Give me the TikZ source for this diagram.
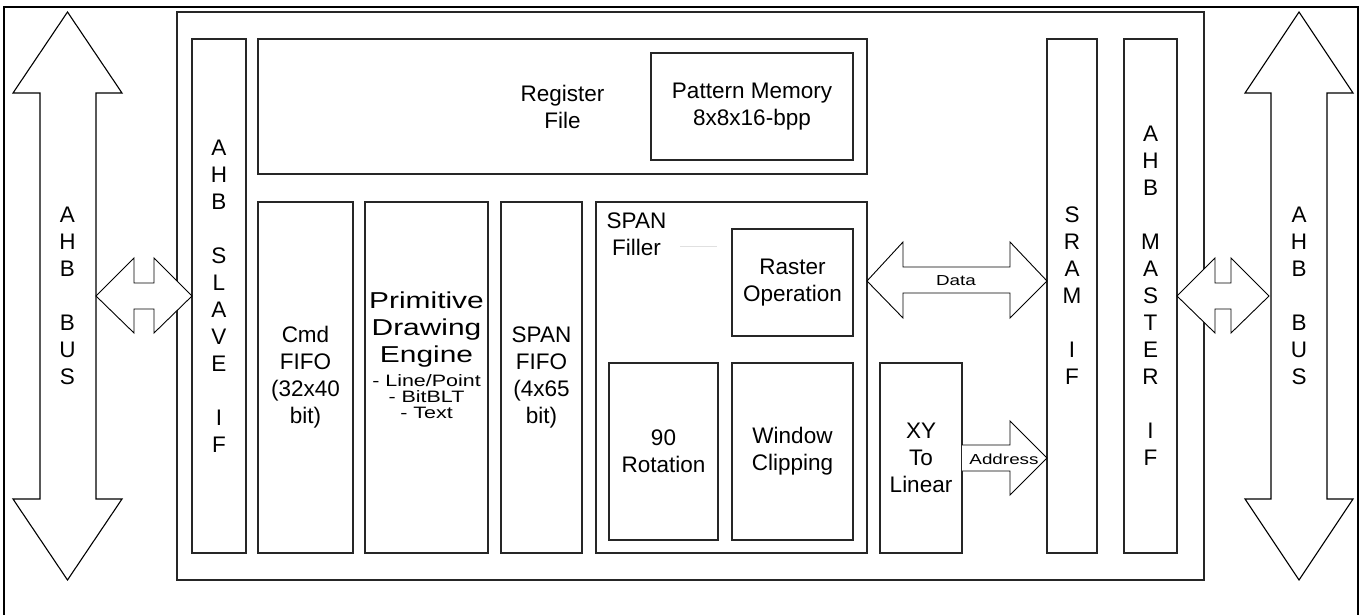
\documentclass[tikz,border=0pt]{standalone}
\usepackage{fontspec}
\setmainfont{Liberation Sans}
\newfontfamily\widefont{Liberation Sans}[FakeStretch=1.3]
\begin{document}
\begin{tikzpicture}[x=1pt,y=-1pt,
  box/.style={draw=black!85,line width=1.2pt,fill=white,inner sep=0pt,align=center,
    font=\fontsize{22.5}{27}\selectfont},
  lbl/.style={inner sep=0pt,align=center,font=\fontsize{22.5}{27}\selectfont},
  widelbl/.style={inner sep=0pt,align=center,font=\widefont\fontsize{23}{27}\selectfont},
  small/.style={inner sep=0pt,align=center,font=\widefont\fontsize{16.5}{16}\selectfont},
  arrlbl/.style={inner sep=0pt,align=center,font=\widefont\fontsize{14.5}{16}\selectfont},
  bigarrow/.style={draw=black,line width=1.1pt,fill=white,line join=miter}]
\useasboundingbox (0,0) rectangle (1364,615);
% outer frame (open at bottom)
\draw[line width=2.5pt] (4,615) -- (4,7) -- (1358,7) -- (1358,615);
% AHB bus arrows
\draw[bigarrow] (67.5,12) -- (122,93) -- (96,93) -- (96,499) -- (122,499) -- (67.5,580)
  -- (13,499) -- (40,499) -- (40,93) -- (13,93) -- cycle;
\node[lbl] (busl) at (67.5,296) {A\\H\\B\\[27pt]B\\U\\S};
\draw[bigarrow] (1299,12) -- (1353,93) -- (1327,93) -- (1327,499) -- (1353,499) -- (1299,580)
  -- (1245,499) -- (1271,499) -- (1271,93) -- (1245,93) -- cycle;
\node[lbl] (busr) at (1299,296) {A\\H\\B\\[27pt]B\\U\\S};
% main block
\node[box,line width=1.3pt,minimum width=1027pt,minimum height=568pt] (main) at (690.5,296) {};
\node[box,minimum width=54pt,minimum height=514pt] (slave) at (219,296)
  {A\\H\\B\\[27pt]S\\L\\A\\V\\E\\[27pt]I\\F};
\node[box,minimum width=609pt,minimum height=135pt] (reg) at (562.5,106.5) {Register\\File};
\node[box,minimum width=202pt,minimum height=107pt] (pat) at (752,106.5) {Pattern Memory\\8x8x16-bpp};
\node[box,minimum width=95pt,minimum height=351pt] (cmd) at (305.5,377.5) {Cmd\\FIFO\\(32x40\\bit)};
\node[box,minimum width=123pt,minimum height=351pt] (pde) at (426.5,377.5) {};
\node[widelbl] (pdet) at (426.5,330) {Primitive\\Drawing\\Engine};
\node[small] (pdes) at (426.5,397) {- Line/Point\\- BitBLT\\- Text};
\node[box,minimum width=81pt,minimum height=351pt] (sfifo) at (541.5,377.5) {SPAN\\FIFO\\(4x65\\bit)};
\node[box,minimum width=271pt,minimum height=351pt] (filler) at (731.5,377.5) {};
\node[lbl] (fillt) at (636.5,234) {SPAN\\Filler};
\draw[black!12,line width=0.8pt] (680,246) -- (717,246);
\node[box,minimum width=121pt,minimum height=107pt] (rop) at (792.5,282.5) {Raster\\Operation};
\node[box,minimum width=109pt,minimum height=177pt] (rot) at (663.5,451.5) {90\\Rotation};
\node[box,minimum width=121pt,minimum height=177pt] (win) at (792.5,451.5) {Window\\Clipping};
\node[box,minimum width=82pt,minimum height=190pt] (xy) at (921,458) {XY\\To\\Linear};
\node[box,minimum width=50pt,minimum height=514pt] (sram) at (1072,296) {S\\R\\A\\M\\[27pt]I\\F};
\node[box,minimum width=53pt,minimum height=514pt] (master) at (1150.5,296)
  {A\\H\\B\\[27pt]M\\A\\S\\T\\E\\R\\[27pt]I\\F};
% double arrows to buses
\draw[bigarrow,line width=0.9pt] (96,296) -- (134,258) -- (134,283) -- (154,283) -- (154,258) -- (192,296)
  -- (154,333) -- (154,309) -- (134,309) -- (134,333) -- cycle;
\draw[bigarrow,line width=0.9pt] (1177,296) -- (1215,258) -- (1215,283) -- (1231,283) -- (1231,258) -- (1269,296)
  -- (1231,333) -- (1231,309) -- (1215,309) -- (1215,333) -- cycle;
% Data arrow
\draw[bigarrow,line width=0.9pt] (867,281) -- (903,242) -- (903,267) -- (1010,267) -- (1010,242) -- (1047,281)
  -- (1010,318) -- (1010,293) -- (903,293) -- (903,318) -- cycle;
\node[arrlbl] (data) at (956,281) {Data};
% Address arrow
\draw[bigarrow,line width=0.9pt] (962,445) -- (1010,445) -- (1010,421) -- (1047,458) -- (1010,495)
  -- (1010,471) -- (962,471);
\node[arrlbl] (addr) at (1004,459) {Address};
\end{tikzpicture}
\end{document}
